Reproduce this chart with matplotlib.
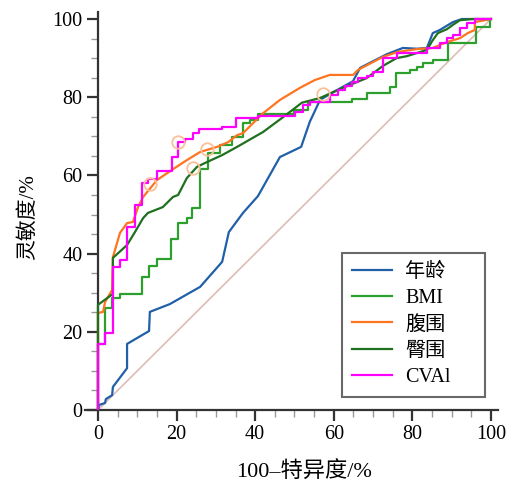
import matplotlib
matplotlib.use("Agg")
import matplotlib.pyplot as plt
from matplotlib.ticker import MultipleLocator

plt.rcParams['font.family'] = ['Liberation Serif', 'Noto Sans CJK SC']

# 年龄
age_x = [0, 0.3, 1.8, 2.0, 3.6, 3.8, 7.4, 7.4, 13.0, 13.2, 18.3, 26.0, 31.6, 33.3, 36.9, 40.7,
         46.3, 51.7, 53.9, 56.5, 59.0, 64.9, 66.7, 73.5, 77.6, 81.2, 83.7, 85.2, 87.0, 90.3, 92.6, 100]
age_y = [0, 1.3, 1.8, 2.8, 3.8, 5.9, 10.7, 16.9, 20.2, 25.1, 27.1, 31.5, 37.9, 45.5, 50.4, 54.7,
         64.7, 67.3, 73.7, 79.3, 80.8, 84.1, 87.5, 91.0, 92.6, 92.4, 92.6, 96.4, 97.2, 99.2, 100, 100]

# BMI (step)
bmi_x = [0, 0, 1.8, 3.6, 5.6, 11.2, 13.0, 15.0, 18.5, 20.4, 22.6, 24.0, 26.0, 28.0, 31.0, 34.0,
         36.8, 38.7, 40.7, 50.0, 53.4, 64.6, 68.4, 74.3, 75.8, 79.4, 81.2, 82.7, 85.2, 89.0, 96.2, 99.7, 100]
bmi_y = [0, 17, 26, 28.6, 29.7, 34, 36.8, 38.6, 43.7, 47.8, 49.1, 51.6, 61.6, 65.7, 67.8, 69.8,
         73.4, 74.2, 75.7, 76.7, 78.8, 79.5, 81, 82.6, 86.2, 87, 87.7, 88.7, 89.5, 93.9, 98, 100, 100]

# 腹围
waist_x = [0, 0, 1.3, 1.8, 3.6, 3.8, 5.6, 7.4, 8.9, 10.2, 11.5, 15, 18.8, 22.6, 26, 30.3, 33.1, 35.4,
           36.9, 42, 46.3, 51.4, 55.2, 59, 64.9, 66.2, 70, 72.5, 76.3, 81.2, 85.2, 88.8, 92.1, 94.1,
           95.9, 95.9, 100]
waist_y = [0, 24.8, 25.1, 27.6, 30.7, 39.1, 45.3, 47.8, 48.1, 51.9, 54.5, 58.8, 61.4, 63.9, 66, 67.3,
           68.5, 70.3, 70.8, 75.9, 79.3, 82.4, 84.4, 85.7, 85.7, 87, 89, 90.3, 91.6, 92.3, 92.6, 94.1,
           95.1, 96.4, 97.2, 99.2, 100]

# 臀围
hip_x = [0, 0, 3.8, 3.8, 7.4, 9.4, 11.5, 12.7, 16.5, 19.1, 20.4, 22.6, 25.2, 27.7, 31.6, 35.4, 42,
         47.1, 51.9, 56.5, 62.3, 68.4, 72.5, 76, 78.6, 83.7, 85.2, 86.5, 88.8, 90.3, 92.1, 95.4, 100]
hip_y = [0, 26.9, 29.7, 38.9, 42.2, 45.5, 49.1, 50.4, 51.9, 54.5, 55, 59.3, 62.2, 63.4, 65.2, 67.3,
         71.1, 74.9, 78.6, 79.8, 82.4, 84.9, 88, 90, 90.5, 92.1, 94.6, 96.4, 97.4, 98.5, 99.7, 100, 100]

# CVAI (step)
cvai_x = [0, 0, 1.8, 3.8, 5.6, 7.4, 9.4, 11.2, 12.7, 15, 18.8, 20.4, 22.1, 24.2, 25.6, 31.6, 35.2,
          40.7, 50.1, 52.2, 54, 59, 61.1, 62.8, 64.6, 66.2, 68.4, 70, 72.5, 76, 83.7, 87, 88.8, 90.3,
          92.1, 93.9, 95.9, 100]
cvai_y = [0, 16.9, 19.7, 36.6, 38.4, 46.8, 52.5, 58, 59, 61.1, 64.7, 68.5, 69.3, 70.8, 71.8, 72.4,
          74.6, 75.1, 76.2, 78, 78.8, 80.6, 81.8, 82.9, 83.9, 84.9, 85.4, 86.4, 90, 91.3, 92.6, 93.9,
          95.1, 96, 97.7, 99.1, 100, 100]

# cut-off points
cut_x = [13.2, 20.4, 24.2, 27.7, 57.3]
cut_y = [57.8, 68.5, 61.9, 66.8, 80.8]

fig = plt.figure(figsize=(5.13, 4.83), dpi=100)
ax = fig.add_axes([0.1657, 0.1511, 0.8051, 0.8241])

ax.plot([0, 100], [0, 100], color='#dcbdb6', lw=1.2, zorder=1)
ax.plot(age_x, age_y, color='#2160a8', lw=1.6, label='年龄', zorder=3)
ax.plot(bmi_x, bmi_y, color='#2ca02c', lw=1.6, drawstyle='steps-post', label='BMI', zorder=3)
ax.plot(waist_x, waist_y, color='#ff7420', lw=1.6, label='腹围', zorder=3)
ax.plot(hip_x, hip_y, color='#1f701f', lw=1.6, label='臀围', zorder=3)
ax.plot(cvai_x, cvai_y, color='#ff00ff', lw=1.6, drawstyle='steps-post', label='CVAl', zorder=4)
ax.plot(cut_x, cut_y, 'o', ms=9, mfc='none', mec='#fac09a', mew=1.3, zorder=5)

ax.set_xlim(-3.3, 101.8)
ax.set_ylim(0, 101.8)
ax.spines['left'].set_position(('data', 0))
ax.spines['top'].set_visible(False)
ax.spines['right'].set_visible(False)
for s in ['left', 'bottom']:
    ax.spines[s].set_linewidth(1.6)
    ax.spines[s].set_color('#333333')

ax.set_xticks([0, 20, 40, 60, 80, 100])
ax.set_yticks([0, 20, 40, 60, 80, 100])
ax.xaxis.set_minor_locator(MultipleLocator(5))
ax.yaxis.set_minor_locator(MultipleLocator(5))
ax.tick_params(which='major', direction='out', length=8, width=1.6, color='#333333',
               labelsize=14.5, pad=3)
ax.tick_params(which='minor', direction='out', length=5, width=1, color='#999999')

ax.set_xlabel('100–特异度/%', fontsize=16, va='center')
ax.xaxis.set_label_coords(0.530, -0.156)
ax.set_ylabel('灵敏度/%', fontsize=15, va='center')
ax.yaxis.set_label_coords(-0.138, 0.485)

leg = ax.legend(loc='lower left', bbox_to_anchor=(0.622, 0.033, 0.3463, 0.374), mode='expand',
                borderaxespad=0, fontsize=14.5, frameon=True, fancybox=False, handlelength=2.0,
                handletextpad=0.65, labelspacing=0.35, borderpad=0.5)
leg.get_frame().set_edgecolor('#444444')
leg.get_frame().set_linewidth(1.5)

fig.savefig('out.png', dpi=100)
